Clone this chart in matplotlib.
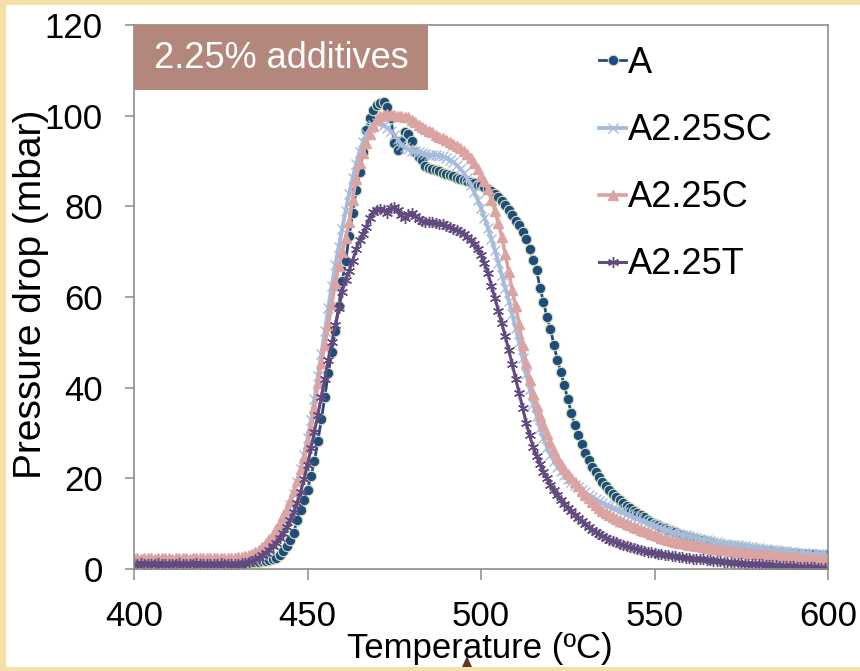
import numpy as np
import matplotlib
matplotlib.use("Agg")
import matplotlib.pyplot as plt
from matplotlib.patches import Rectangle, Polygon

plt.rcParams['font.family'] = ['Liberation Sans', 'DejaVu Sans']

# temperature grid (1 degC steps)
temps = np.arange(400, 601)

a_vals = [1.3, 1.3, 1.3, 1.2, 1.3, 1.3, 1.3, 1.2, 1.3, 1.3,
          1.3, 1.3, 1.2, 1.3, 1.3, 1.3, 1.3, 1.3, 1.2, 1.3,
          1.3, 1.3, 1.3, 1.3, 1.3, 1.3, 1.3, 1.3, 1.4, 1.4,
          1.4, 1.4, 1.4, 1.5, 1.5, 1.5, 1.6, 1.7, 1.8, 1.9,
          2.1, 2.5, 3.1, 3.9, 5.0, 6.5, 8.0, 10.8, 13.0, 15.3,
          17.5, 20.5, 23.8, 28.3, 33.0, 38.0, 43.3, 47.8, 52.5, 58.0,
          63.5, 68.0, 73.5, 78.5, 83.5, 87.5, 92.0, 96.8, 99.5, 101.3,
          102.3, 102.9, 103.0, 102.0, 99.5, 94.0, 92.5, 94.5, 96.3, 96.0,
          94.5, 92.0, 90.8, 90.2, 89.0, 88.5, 88.2, 88.0, 87.7, 87.4,
          87.2, 86.9, 86.6, 86.3, 86.0, 85.8, 85.6, 85.3, 85.1, 84.8,
          84.6, 84.2, 83.8, 83.3, 82.7, 82.1, 81.2, 80.2, 79.2, 78.0,
          76.8, 75.8, 74.3, 72.8, 70.6, 68.2, 66.0, 62.0, 59.0, 55.5,
          53.0, 49.5, 46.0, 43.5, 40.5, 37.5, 34.5, 31.8, 29.5, 27.5,
          25.6, 24.0, 22.6, 21.4, 20.3, 19.3, 18.3, 17.4, 16.6, 15.9,
          15.2, 14.6, 14.0, 13.4, 12.9, 12.4, 11.9, 11.4, 10.9, 10.4,
          10.0, 9.6, 9.3, 9.0, 8.7, 8.4, 8.1, 7.8, 7.5, 7.3,
          7.1, 6.9, 6.7, 6.5, 6.3, 6.1, 5.9, 5.7, 5.5, 5.4,
          5.3, 5.1, 5.0, 4.9, 4.8, 4.7, 4.6, 4.5, 4.4, 4.3,
          4.2, 4.1, 4.0, 4.0, 3.9, 3.8, 3.8, 3.7, 3.6, 3.6,
          3.5, 3.5, 3.4, 3.3, 3.3, 3.2, 3.2, 3.1, 3.1, 3.0,
          3.0]

sc_vals = [1.6, 1.6, 1.5, 1.6, 1.6, 1.6, 1.5, 1.6, 1.6, 1.6,
           1.6, 1.5, 1.6, 1.6, 1.6, 1.6, 1.6, 1.5, 1.6, 1.6,
           1.6, 1.6, 1.6, 1.6, 1.7, 1.6, 1.7, 1.7, 1.7, 1.7,
           1.8, 1.8, 1.9, 2.0, 2.1, 2.3, 2.6, 3.0, 3.5, 4.2,
           5.5, 6.8, 8.3, 10.0, 12.0, 14.2, 16.6, 19.2, 22.0, 25.2,
           28.8, 32.8, 37.5, 42.5, 47.5, 52.5, 57.5, 62.5, 67.0, 71.0,
           75.0, 79.0, 82.8, 86.3, 89.3, 92.0, 94.3, 96.0, 97.2, 98.0,
           98.4, 98.3, 97.9, 97.3, 96.6, 95.8, 94.8, 93.6, 93.0, 92.6,
           92.3, 92.1, 92.0, 91.8, 91.5, 91.3, 91.3, 91.3, 91.2, 91.0,
           90.7, 90.3, 89.8, 89.1, 88.3, 87.4, 86.2, 84.8, 83.2, 81.5,
           79.6, 77.5, 75.2, 72.8, 70.4, 67.6, 64.8, 62.0, 59.2, 56.2,
           53.2, 50.0, 46.5, 43.0, 39.8, 36.5, 33.8, 31.2, 28.8, 27.0,
           25.2, 23.8, 22.6, 21.6, 20.7, 19.9, 19.2, 18.6, 18.0, 17.4,
           16.9, 16.4, 15.9, 15.4, 14.9, 14.5, 14.1, 13.8, 13.5, 13.2,
           12.9, 12.5, 12.1, 11.7, 11.4, 11.1, 10.8, 10.5, 10.2, 9.9,
           9.6, 9.3, 9.0, 8.7, 8.5, 8.2, 8.0, 7.8, 7.6, 7.4,
           7.2, 7.0, 6.9, 6.7, 6.5, 6.4, 6.2, 6.0, 5.9, 5.8,
           5.6, 5.5, 5.4, 5.3, 5.2, 5.1, 5.0, 4.9, 4.8, 4.7,
           4.6, 4.5, 4.4, 4.3, 4.2, 4.1, 4.0, 3.9, 3.9, 3.8,
           3.7, 3.6, 3.5, 3.5, 3.4, 3.3, 3.3, 3.2, 3.2, 3.1,
           3.0]

c_vals = [2.4, 2.4, 2.3, 2.4, 2.4, 2.4, 2.3, 2.4, 2.4, 2.4,
          2.4, 2.3, 2.4, 2.4, 2.4, 2.4, 2.3, 2.4, 2.4, 2.4,
          2.4, 2.4, 2.4, 2.4, 2.4, 2.4, 2.5, 2.5, 2.5, 2.5,
          2.6, 2.7, 2.8, 3.0, 3.3, 3.7, 4.2, 4.9, 5.7, 6.6,
          7.6, 8.8, 10.1, 11.6, 13.3, 15.1, 17.2, 19.5, 22.0, 24.5,
          27.5, 31.0, 35.5, 41.0, 45.5, 49.5, 53.8, 58.5, 63.0, 66.8,
          70.0, 73.0, 76.5, 81.5, 86.0, 89.5, 91.8, 94.0, 96.0, 97.8,
          99.3, 100.0, 100.2, 100.3, 100.2, 100.2, 100.0, 99.9, 99.8, 99.6,
          99.1, 98.6, 98.0, 97.5, 97.1, 96.7, 96.3, 95.8, 95.4, 95.0,
          94.6, 94.2, 93.8, 93.4, 92.8, 92.2, 91.5, 90.6, 89.5, 88.2,
          86.8, 85.5, 83.8, 81.5, 79.0, 76.3, 73.2, 69.5, 65.5, 61.5,
          58.0, 54.0, 49.5, 45.5, 41.8, 38.6, 36.0, 33.8, 31.8, 29.8,
          27.8, 26.0, 24.5, 23.2, 22.0, 21.0, 20.0, 19.1, 18.2, 17.3,
          16.4, 15.6, 14.8, 14.1, 13.4, 12.9, 12.4, 11.9, 11.4, 11.0,
          10.6, 10.3, 9.9, 9.6, 9.3, 9.0, 8.7, 8.4, 8.1, 7.8,
          7.5, 7.2, 6.9, 6.6, 6.4, 6.2, 6.0, 5.8, 5.7, 5.5,
          5.4, 5.2, 5.1, 5.0, 4.9, 4.7, 4.6, 4.5, 4.4, 4.3,
          4.2, 4.1, 4.0, 3.9, 3.8, 3.7, 3.6, 3.5, 3.5, 3.4,
          3.3, 3.2, 3.2, 3.1, 3.0, 3.0, 2.9, 2.8, 2.8, 2.7,
          2.6, 2.6, 2.5, 2.5, 2.4, 2.4, 2.3, 2.3, 2.2, 2.2,
          2.1]

t_vals = [1.2, 1.2, 1.3, 1.2, 1.2, 1.2, 1.2, 1.3, 1.2, 1.2,
          1.2, 1.2, 1.2, 1.3, 1.2, 1.2, 1.2, 1.2, 1.3, 1.2,
          1.2, 1.2, 1.2, 1.2, 1.2, 1.3, 1.2, 1.2, 1.2, 1.2,
          1.2, 1.3, 1.4, 1.6, 1.8, 2.1, 2.5, 3.0, 3.6, 4.3,
          5.0, 5.8, 6.8, 7.9, 9.2, 10.7, 12.5, 14.6, 17.0, 19.8,
          23.0, 26.6, 30.3, 34.0, 38.0, 42.0, 46.0, 50.0, 53.8, 57.5,
          61.2, 63.8, 65.8, 68.0, 70.5, 72.5, 74.0, 75.5, 77.5, 78.8,
          79.3, 79.5, 79.2, 78.6, 79.6, 79.8, 79.2, 78.0, 77.4, 78.2,
          78.6, 77.8, 77.3, 76.8, 76.5, 76.5, 76.6, 76.4, 76.2, 76.0,
          75.7, 75.4, 75.1, 74.8, 74.4, 73.9, 73.3, 72.5, 71.6, 70.6,
          69.3, 67.5, 65.3, 62.5, 59.8, 57.0, 54.2, 51.3, 48.3, 45.2,
          42.0, 38.8, 35.5, 32.3, 29.5, 27.0, 25.0, 23.2, 21.5, 20.0,
          18.6, 17.4, 16.3, 15.2, 14.3, 13.5, 12.7, 12.0, 11.3, 10.6,
          9.9, 9.3, 8.7, 8.2, 7.7, 7.3, 6.9, 6.5, 6.2, 5.9,
          5.6, 5.3, 5.0, 4.8, 4.6, 4.4, 4.2, 4.0, 3.8, 3.7,
          3.5, 3.4, 3.2, 3.1, 3.0, 2.9, 2.8, 2.7, 2.6, 2.5,
          2.4, 2.3, 2.2, 2.1, 2.1, 2.0, 1.9, 1.8, 1.8, 1.7,
          1.6, 1.5, 1.5, 1.4, 1.4, 1.3, 1.2, 1.2, 1.1, 1.1,
          1.0, 1.0, 0.9, 0.9, 0.8, 0.8, 0.7, 0.7, 0.7, 0.6,
          0.6, 0.5, 0.5, 0.5, 0.4, 0.4, 0.4, 0.3, 0.3, 0.3,
          0.2]

labels = ['A', 'A2.25SC', 'A2.25C', 'A2.25T']
xticks = [400, 450, 500, 550, 600]
yticks = [0, 20, 40, 60, 80, 100, 120]

W, H = 860, 671
fig = plt.figure(figsize=(W / 100, H / 100), dpi=100, facecolor='#f4e0a6')
# white slide panel (behind everything)
fig.patches.append(Rectangle((6 / W, 1 - 667 / H), 854 / W, 662 / H,
                             transform=fig.transFigure, facecolor='white',
                             edgecolor='none', zorder=-10))
# small brown arrow tip at the bottom edge
fig.patches.append(Polygon([(462 / W, 1 - 667 / H), (472 / W, 1 - 667 / H), (467 / W, 1 - 656 / H)],
                           closed=True, transform=fig.transFigure,
                           facecolor='#5a3a28', edgecolor='none', zorder=-5))

ax = fig.add_axes([134 / W, 1 - 569 / H, (828 - 134) / W, (569 - 25) / H])
ax.set_facecolor('none')

ax.plot(temps, a_vals, color='#1f4b7d', lw=2.0, marker='o', ms=7.5,
        mfc='#1f4b7d', mec='#d2e2b4', mew=0.8, label=labels[0])
ax.plot(temps, sc_vals, color='#a7bbdb', lw=2.8, marker='x', ms=7,
        mew=1.0, label=labels[1])
ax.plot(temps, c_vals, color='#dba4a2', lw=2.6, marker='^', ms=7,
        mec='#dba4a2', label=labels[2])
ax.plot(temps, t_vals, color='#614a7e', lw=2.2, marker=(6, 2, 0), ms=8,
        mew=1.0, label=labels[3])

ax.set_xlim(400, 600)
ax.set_ylim(0, 120)
ax.set_xticks(xticks)
ax.set_yticks(yticks)
for s in ax.spines.values():
    s.set_color('#8c8c8c')
    s.set_linewidth(1.2)
ax.tick_params(axis='x', direction='out', length=8, width=1.1, color='#8c8c8c',
               labelsize=25, pad=14)
ax.tick_params(axis='y', direction='out', length=6.5, width=1.1, color='#8c8c8c',
               labelsize=25, pad=16)

fig.text(31 / W, 1 - 294 / H, 'Pressure drop (mbar)', rotation=90,
         ha='center', va='center', fontsize=28)
fig.text(480 / W, 1 - 658 / H, 'Temperature (\u00baC)', ha='center',
         va='baseline', fontsize=25)

# title box
ax.add_patch(Rectangle((134 / W, 1 - 90 / H), (428 - 134) / W, 65 / H,
                       transform=fig.transFigure, facecolor='#b3877c',
                       edgecolor='none', zorder=5, clip_on=False))
fig.text(281 / W, 1 - 58 / H, '2.25% additives', color='white', ha='center',
         va='center', fontsize=26, zorder=6)

leg = ax.legend(loc='upper left', bbox_to_anchor=(599 / W, 1 - 46 / H),
                bbox_transform=fig.transFigure, frameon=False, fontsize=26,
                handlelength=0.75, handletextpad=0.05, labelspacing=0.89,
                borderpad=0, borderaxespad=0, numpoints=1)

fig.savefig('out.png', dpi=100, facecolor=fig.get_facecolor())
